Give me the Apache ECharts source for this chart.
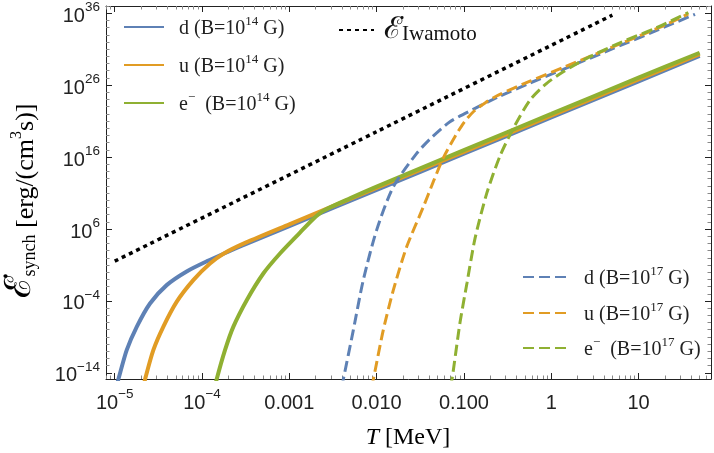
<!DOCTYPE html>
<html><head><meta charset="utf-8">
<script src="https://cdn.jsdelivr.net/npm/echarts@6/dist/echarts.min.js"></script>
<style>html,body{margin:0;padding:0;background:#fff}#c{width:714px;height:453px}</style>
</head><body><div id="c"></div>
<script>
// All values are log10: logT = log10(T / MeV), logE = log10(E_synch / (erg cm^-3 s^-1))
const d14_logT = [-4.98, -4.959, -4.863, -4.748, -4.596, -4.405, -4.176, -3.947, -3.7, -3.5, -3.0, -2.0, -1.0, 0.0, 1.0, 1.7];
const d14_logE = [-15.8, -14.92, -10.84, -7.6, -4.35, -1.8, 0.1, 1.5, 2.85, 3.9, 6.4, 11.44, 16.47, 21.5, 26.53, 30.05];
const u14_logT = [-4.67, -4.653, -4.558, -4.444, -4.291, -4.10, -3.909, -3.75, -3.5, -3.0, -2.0, -1.0, 0.0, 1.0, 1.7];
const u14_logE = [-16.0, -14.92, -10.84, -7.6, -4.13, -1.11, 1.2, 2.6, 4.1, 6.65, 11.7, 16.72, 21.75, 26.78, 30.3];
const e14_logT = [-3.85, -3.833, -3.737, -3.642, -3.488, -3.298, -3.107, -2.878, -2.726, -2.6, -2.3, -2.0, -1.0, 0.0, 1.0, 1.7];
const e14_logE = [-16.0, -14.92, -10.84, -7.6, -3.89, -0.18, 2.6, 5.5, 7.4, 8.6, 10.3, 11.9, 16.97, 22.0, 27.03, 30.5];
const d17_logT = [-2.40, -2.382, -2.267, -2.153, -2.0, -1.809, -1.541, -1.389, -1.16, -0.9, -0.6, -0.243, 0.138, 0.711, 1.284, 1.647];
const d17_logE = [-16.0, -14.92, -8.06, -1.1, 5.85, 11.87, 16.51, 18.5, 20.9, 22.6, 24.4, 26.3, 28.2, 31.1, 34.0, 35.85];
const u17_logT = [-2.06, -2.038, -1.924, -1.809, -1.656, -1.465, -1.35, -1.236, -1.1, -1.0, -0.892, -0.75, -0.6, -0.243, 0.138, 0.711, 1.284, 1.57];
const u17_logE = [-16.0, -14.92, -8.06, -2.5, 3.52, 9.08, 12.6, 15.9, 18.9, 20.8, 22.3, 23.6, 24.65, 26.55, 28.45, 31.35, 34.25, 35.9];
const e17_logT = [-1.16, -1.137, -1.045, -0.965, -0.873, -0.739, -0.587, -0.434, -0.243, -0.052, 0.138, 0.406, 0.8, 1.2, 1.57];
const e17_logE = [-16.0, -14.92, -7.0, -1.5, 4.69, 10.95, 16.14, 20.0, 23.93, 26.25, 27.86, 29.73, 31.95, 33.95, 36.1];
const iwa_logT = [-5.0, -2.0, 0.7];
const iwa_logE = [1.53, 19.53, 35.73];

const xTickVals = [-5, -4, -3, -2, -1, 0, 1];
const xTickText = ['10^-5', '10^-4', '0.001', '0.010', '0.100', '1', '10'];
const yTickVals = [-14, -4, 6, 16, 26, 36];
const yTickText = ['10^-14', '10^-4', '10^6', '10^16', '10^26', '10^36'];

const xMin = -5.1, xMax = 1.83, yMin = -14.85, yMax = 37;

const xMinor = [];
for (let e = -6; e <= 1; e++) for (let k = 2; k <= 9; k++) { const v = e + Math.log10(k); if (v > xMin && v < xMax) xMinor.push(v); }
const yMinor = [];
for (let v = -14; v <= 37; v++) if (!yTickVals.includes(v)) yMinor.push(v);

const serif = "'Liberation Serif','DejaVu Serif','Times New Roman',serif";
const sans = "'Liberation Sans','DejaVu Sans',Arial,sans-serif";
const C = { d: '#5E81B5', u: '#E19C24', e: '#8FB032' };

function fmtTick(txt) {
  if (txt.startsWith('10^')) return '{b|10}{s|' + txt.slice(3).replace('-', '\u2212') + '}';
  return '{b|' + txt + '}';
}
const tickRich = {
  b: { fontFamily: sans, fontSize: 20, color: '#222', lineHeight: 26, verticalAlign: 'bottom' },
  s: { fontFamily: sans, fontSize: 13.5, color: '#222', lineHeight: 16, verticalAlign: 'top' }
};
const pair = (xs, ys) => xs.map((x, i) => [x, ys[i]]);

function ser(name, xs, ys, color, width, dash) {
  return {
    name, type: 'line', xAxisIndex: 0, yAxisIndex: 0, data: pair(xs, ys),
    symbol: 'none', smooth: 0.25, clip: true, silent: true,
    lineStyle: { color, width, type: dash || 'solid', cap: 'butt' },
    itemStyle: { color }, z: 3
  };
}

const legRich = {
  t: { fontFamily: serif, fontSize: 20, color: '#222', lineHeight: 24, verticalAlign: 'bottom' },
  s: { fontFamily: serif, fontSize: 13, color: '#222', lineHeight: 14, verticalAlign: 'top' },
  E: { fontFamily: serif, fontSize: 30, color: '#111', lineHeight: 30, verticalAlign: 'bottom' },
  sub: { fontFamily: serif, fontSize: 21, color: '#111', lineHeight: 24, verticalAlign: 'bottom' }
};
const legendText = {
  d14: '{t|d (B=10}{s|14}{t| G)}',
  u14: '{t|u (B=10}{s|14}{t| G)}',
  e14: '{t|e}{s|\u2212}{t|  (B=10}{s|14}{t| G)}',
  d17: '{t|d (B=10}{s|17}{t| G)}',
  u17: '{t|u (B=10}{s|17}{t| G)}',
  e17: '{t|e}{s|\u2212}{t|  (B=10}{s|17}{t| G)}',
  iwa: '{E|\u2130\u0307}{sub|Iwamoto}'
};
function leg(name, left, cy, w, h, gap) {
  return {
    data: [name], left, top: cy - h / 2, itemWidth: w, itemHeight: 4,
    formatter: n => legendText[n], selectedMode: false,
    itemStyle: { opacity: 0 },
    textStyle: { rich: legRich, padding: [0, 0, 0, gap] }, padding: 0
  };
}

const common = { min: xMin, max: xMax, type: 'value', splitLine: { show: false } };
const commonY = { min: yMin, max: yMax, type: 'value', splitLine: { show: false } };
const axLine = { show: true, onZero: false, lineStyle: { color: '#222', width: 1 } };
const noLine = { show: false, onZero: false };

const option = {
  animation: false,
  backgroundColor: '#fff',
  grid: [
    { left: 106, right: 3, top: 6, bottom: 74, containLabel: false },
    { left: 106, right: 3, top: 6, bottom: 74, containLabel: false }
  ],
  xAxis: [
    Object.assign({}, common, { gridIndex: 0, position: 'bottom', axisLine: axLine,
      axisTick: { show: true, inside: true, length: 6, customValues: xTickVals, lineStyle: { color: '#222' } },
      axisLabel: { show: true, customValues: xTickVals, margin: 8, formatter: v => fmtTick(xTickText[xTickVals.indexOf(Math.round(v))]), rich: tickRich } }),
    Object.assign({}, common, { gridIndex: 0, position: 'top', axisLine: axLine,
      axisTick: { show: true, inside: true, length: 6, customValues: xTickVals, lineStyle: { color: '#222' } },
      axisLabel: { show: false } }),
    Object.assign({}, common, { gridIndex: 1, position: 'bottom', axisLine: noLine,
      axisTick: { show: true, inside: true, length: 3.5, customValues: xMinor, lineStyle: { color: '#888' } },
      axisLabel: { show: false } }),
    Object.assign({}, common, { gridIndex: 1, position: 'top', axisLine: noLine,
      axisTick: { show: true, inside: true, length: 3.5, customValues: xMinor, lineStyle: { color: '#888' } },
      axisLabel: { show: false } })
  ],
  yAxis: [
    Object.assign({}, commonY, { gridIndex: 0, position: 'left', axisLine: axLine,
      axisTick: { show: true, inside: true, length: 6, customValues: yTickVals, lineStyle: { color: '#222' } },
      axisLabel: { show: true, customValues: yTickVals, margin: 6, formatter: v => fmtTick(yTickText[yTickVals.indexOf(Math.round(v))]), rich: tickRich } }),
    Object.assign({}, commonY, { gridIndex: 0, position: 'right', axisLine: axLine,
      axisTick: { show: true, inside: true, length: 6, customValues: yTickVals, lineStyle: { color: '#222' } },
      axisLabel: { show: false } }),
    Object.assign({}, commonY, { gridIndex: 1, position: 'left', axisLine: noLine,
      axisTick: { show: true, inside: true, length: 3.5, customValues: yMinor, lineStyle: { color: '#888' } },
      axisLabel: { show: false } }),
    Object.assign({}, commonY, { gridIndex: 1, position: 'right', axisLine: noLine,
      axisTick: { show: true, inside: true, length: 3.5, customValues: yMinor, lineStyle: { color: '#888' } },
      axisLabel: { show: false } })
  ],
  legend: [
    leg('d14', 123, 27, 40, 24, 10),
    leg('u14', 123, 65, 40, 24, 10),
    leg('e14', 123, 103, 40, 24, 10),
    leg('iwa', 338, 30, 35, 30, 5),
    leg('d17', 522, 277, 43, 24, 13),
    leg('u17', 522, 313, 43, 24, 13),
    leg('e17', 522, 348, 43, 24, 13)
  ],
  series: [
    ser('d14', d14_logT, d14_logE, C.d, 4),
    ser('u14', u14_logT, u14_logE, C.u, 4),
    ser('e14', e14_logT, e14_logE, C.e, 4),
    ser('d17', d17_logT, d17_logE, C.d, 3, [11, 5]),
    ser('u17', u17_logT, u17_logE, C.u, 3, [11, 5]),
    ser('e17', e17_logT, e17_logE, C.e, 3, [11, 5]),
    ser('iwa', iwa_logT, iwa_logE, '#000', 3.5, [4, 4])
  ],
  graphic: [
    { type: 'text', x: 408, y: 438, style: { text: '{i|T}{t| [MeV]}', align: 'center', verticalAlign: 'middle',
      rich: { i: { fontFamily: serif, fontStyle: 'italic', fontSize: 24, color: '#111' }, t: { fontFamily: serif, fontSize: 24, color: '#111' } } } },
    { type: 'text', x: 24, y: 201, rotation: Math.PI / 2, style: { text: '{E|\u2130\u0307}{sub|synch}{t| [erg/(cm}{s|3}{t|s)]}', align: 'center', verticalAlign: 'middle',
      rich: {
        E: { fontFamily: serif, fontSize: 36, color: '#111', lineHeight: 30, verticalAlign: 'bottom' },
        sub: { fontFamily: serif, fontSize: 18, color: '#111', lineHeight: 24, verticalAlign: 'bottom' },
        t: { fontFamily: serif, fontSize: 26, color: '#111', lineHeight: 30, verticalAlign: 'bottom' },
        s: { fontFamily: serif, fontSize: 16, color: '#111', lineHeight: 20, verticalAlign: 'top' }
      } } }
  ]
};
const chart = echarts.init(document.getElementById('c'), null, { renderer: 'canvas' });
chart.setOption(option);
</script>
</body></html>
